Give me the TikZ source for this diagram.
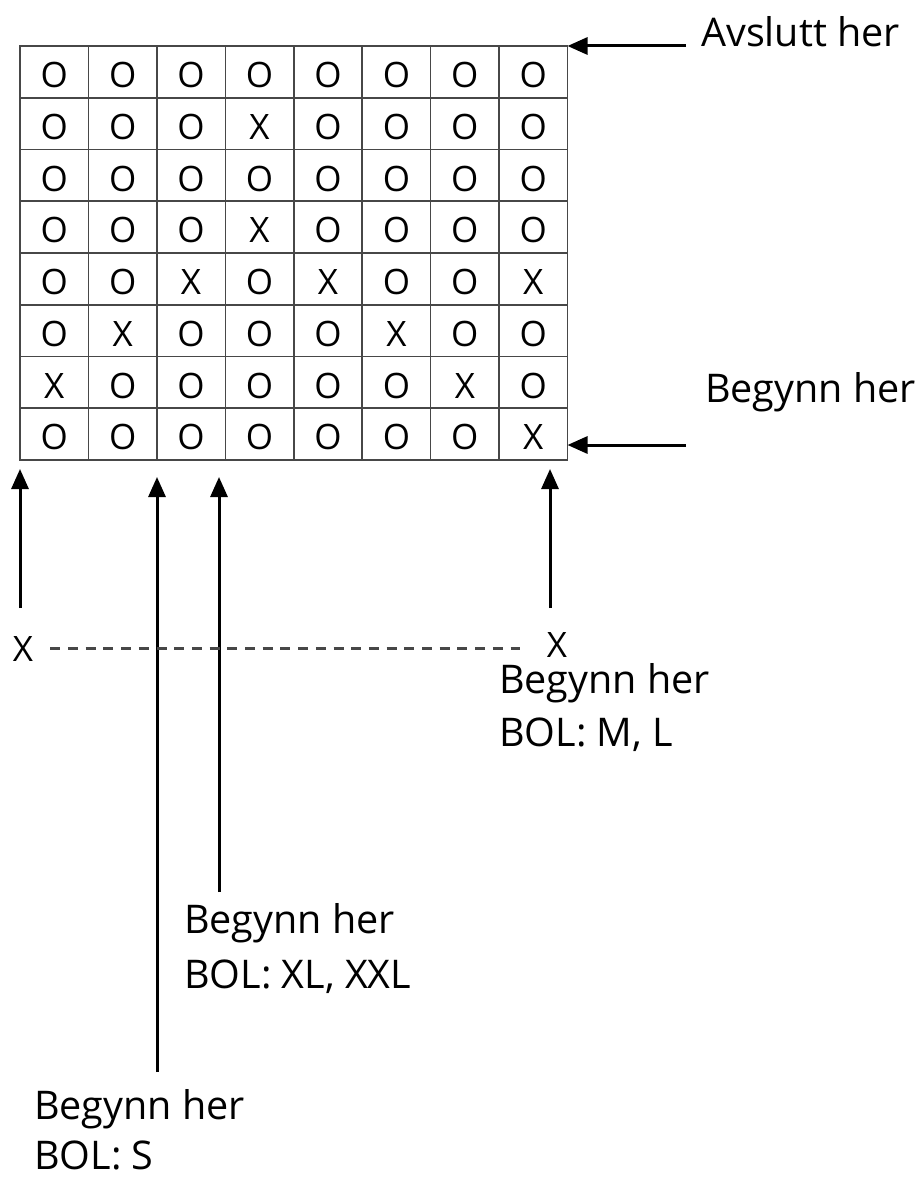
\documentclass[tikz,border=0pt]{standalone}
\usepackage{fontspec}
\setmainfont{Open Sans}
\usetikzlibrary{arrows.meta}
\begin{document}
\begin{tikzpicture}[x=1pt,y=-1pt,
  gridline/.style={draw=black!72, line width=1.6pt},
  arr/.style={-{Triangle[length=20pt,width=17pt]}, line width=3pt},
  lbl/.style={font=\fontsize{39.5}{46}\selectfont, inner sep=0pt, anchor=base west},
  cellmark/.style={font=\fontsize{35}{40}\selectfont, inner sep=0pt, anchor=base},
  dashline/.style={draw=black!72, line width=2.6pt, dash pattern=on 10pt off 7.7pt}
]
\useasboundingbox (0,0) rectangle (922,1177);
% grid frame
\node[gridline, minimum width=547.5pt, minimum height=414pt, inner sep=0pt, outer sep=0pt] (grid) at (293.75,253) {};
\foreach \i in {1,...,7} {
  \draw[gridline] ({20+68.4375*\i},46) -- ({20+68.4375*\i},460);
  \draw[gridline] (20,{46+51.75*\i}) -- (567.5,{46+51.75*\i});
}
% cells
\foreach \row [count=\r from 0] in {{O,O,O,O,O,O,O,O},{O,O,O,X,O,O,O,O},{O,O,O,O,O,O,O,O},{O,O,O,X,O,O,O,O},{O,O,X,O,X,O,O,X},{O,X,O,O,O,X,O,O},{X,O,O,O,O,O,X,O},{O,O,O,O,O,O,O,X}} {
  \foreach \v [count=\c from 0] in \row {
    \node[cellmark] (c\r-\c) at ({20+68.4375*(\c+0.5)},{46+51.75*\r+41.5}) {\v};
  }
}
% right arrows
\coordinate (a1) at (686,46);
\draw[arr] (a1) -- (grid.north east);
\coordinate (a2) at (686,445);
\draw[arr] (a2) -- (a2 -| grid.east);
% bottom arrows
\coordinate (b1) at (20,608);
\coordinate (b2) at (157,1072);
\coordinate (b3) at (219,892);
\coordinate (b4) at (550,608);
\draw[arr, shorten >=9pt] (b1) -- (b1 |- grid.south);
\draw[arr, shorten >=17pt] (b2) -- (b2 |- grid.south);
\draw[arr, shorten >=17pt] (b3) -- (b3 |- grid.south);
\draw[arr, shorten >=9pt] (b4) -- (b4 |- grid.south);
% X marks and dashed line
\node[cellmark] (xl) at (23,661) {X};
\node[cellmark] (xr) at (557,657) {X};
\draw[dashline, shorten <=17pt, shorten >=27pt] (xl.east) -- (xl.east -| xr.west);
% labels
\node[lbl] (t1) at (701,47) {Avslutt her};
\node[lbl] (t2) at (705,402) {Begynn her};
\node[lbl] (t3a) at (499,693) {Begynn her};
\node[lbl] (t3b) at (499,746) {BOL: M, L};
\node[lbl] (t4a) at (184,933) {Begynn her};
\node[lbl] (t4b) at (184,988) {BOL: XL, XXL};
\node[lbl] (t5a) at (34,1119) {Begynn her};
\node[lbl] (t5b) at (34,1169) {BOL: S};
\end{tikzpicture}
\end{document}
